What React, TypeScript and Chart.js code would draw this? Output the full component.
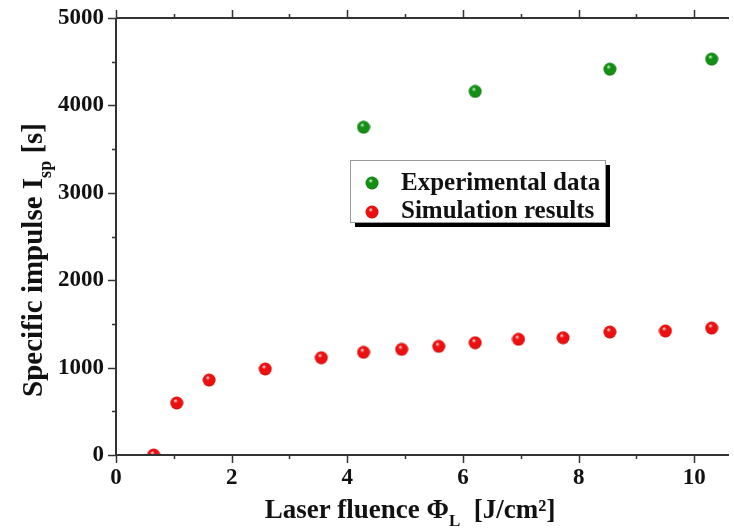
import React, { useEffect, useRef } from "react";
import { Chart, registerables } from "chart.js";
Chart.register(...registerables);

const expX = [4.28, 6.21, 8.54, 10.3];
const expY = [3750, 4160, 4415, 4530];
const simX = [0.65, 1.05, 1.61, 2.58, 3.55, 4.28, 4.94, 5.58, 6.21, 6.96, 7.73, 8.54, 9.5, 10.3];
const simY = [0, 595, 858, 984, 1113, 1175, 1209, 1243, 1285, 1324, 1342, 1407, 1419, 1453];
const xMajorTicks = [0, 2, 4, 6, 8, 10];
const yMajorTicks = [0, 1000, 2000, 3000, 4000, 5000];
const legendLabels = ["Experimental data", "Simulation results"];

const SERIF = '"Liberation Serif", "Times New Roman", serif';
const TEXT = "#111";
const AXIS = "#333";

function sphere(edge: string, base: string, light: string): HTMLCanvasElement {
  const c = document.createElement("canvas");
  const s = 14;
  c.width = s;
  c.height = s;
  const g = c.getContext("2d")!;
  const grad = g.createRadialGradient(5.5, 4.5, 0.5, 7, 7, 7);
  grad.addColorStop(0, light);
  grad.addColorStop(0.25, base);
  grad.addColorStop(0.8, base);
  grad.addColorStop(1, edge);
  g.fillStyle = grad;
  g.beginPath();
  g.arc(7, 7, 6.5, 0, Math.PI * 2);
  g.fill();
  return c;
}

type Part = { t: string; sub?: boolean };

function drawRich(ctx: CanvasRenderingContext2D, parts: Part[], size: number) {
  const main = `bold ${size}px ${SERIF}`;
  const sub = `bold ${Math.round(size * 0.62)}px ${SERIF}`;
  let w = 0;
  for (const p of parts) {
    ctx.font = p.sub ? sub : main;
    w += ctx.measureText(p.t).width;
  }
  let x = -w / 2;
  ctx.textAlign = "left";
  ctx.textBaseline = "alphabetic";
  for (const p of parts) {
    ctx.font = p.sub ? sub : main;
    ctx.fillText(p.t, x, p.sub ? size * 0.3 : 0);
    x += ctx.measureText(p.t).width;
  }
}

export default function App() {
  const ref = useRef<HTMLCanvasElement>(null);
  useEffect(() => {
    const red = sphere("#a00000", "#ee1010", "#ffd8d8");
    const green = sphere("#045004", "#139013", "#c8f0c8");

    const decor = {
      id: "decor",
      afterDraw(chart: any) {
        const ctx: CanvasRenderingContext2D = chart.ctx;
        const xs = chart.scales.x;
        const ys = chart.scales.y;
        const a = chart.chartArea;
        ctx.save();
        ctx.strokeStyle = AXIS;
        ctx.lineWidth = 2;
        ctx.beginPath();
        ctx.moveTo(a.left, a.top);
        ctx.lineTo(a.left, a.bottom);
        ctx.moveTo(a.left, a.bottom);
        ctx.lineTo(a.right, a.bottom);
        ctx.moveTo(a.left, a.top);
        ctx.lineTo(a.right, a.top);
        ctx.stroke();
        ctx.lineWidth = 1.5;
        ctx.beginPath();
        for (let v = 0; v <= 10.6; v += 1) {
          const px = Math.round(xs.getPixelForValue(v)) + 0.5;
          const len = v % 2 === 0 ? 8 : 4;
          ctx.moveTo(px, a.bottom);
          ctx.lineTo(px, a.bottom + len);
          ctx.moveTo(px, a.top);
          ctx.lineTo(px, a.top - len);
        }
        for (let v = 0; v <= 5000; v += 500) {
          const py = Math.round(ys.getPixelForValue(v)) + 0.5;
          const len = v % 1000 === 0 ? 8 : 4;
          ctx.moveTo(a.left, py);
          ctx.lineTo(a.left - len, py);
        }
        ctx.stroke();

        // axis titles
        ctx.fillStyle = TEXT;
        ctx.save();
        ctx.translate(410, 518);
        drawRich(ctx, [{ t: "Laser fluence Φ" }, { t: "L", sub: true }, { t: "  [J/cm²]" }], 27);
        ctx.restore();
        ctx.save();
        ctx.translate(42, 260);
        ctx.rotate(-Math.PI / 2);
        drawRich(ctx, [{ t: "Specific impulse I" }, { t: "sp", sub: true }, { t: " [s]" }], 29);
        ctx.restore();

        // legend
        const lx = 350, ly = 160, lw = 255, lh = 62;
        ctx.fillStyle = "#000";
        ctx.fillRect(lx + 5, ly + lh, lw, 5);
        ctx.fillRect(lx + lw, ly + 5, 5, lh);
        ctx.fillStyle = "#fff";
        ctx.fillRect(lx, ly, lw, lh);
        ctx.strokeStyle = "#999";
        ctx.lineWidth = 1;
        ctx.strokeRect(lx + 0.5, ly + 0.5, lw, lh);
        ctx.drawImage(green, 372 - 7, 183 - 7);
        ctx.drawImage(red, 372 - 7, 212 - 7);
        ctx.fillStyle = TEXT;
        ctx.font = `bold 25px ${SERIF}`;
        ctx.textAlign = "left";
        ctx.textBaseline = "middle";
        ctx.fillText(legendLabels[0], 401, 184);
        ctx.fillText(legendLabels[1], 401, 212);
        ctx.restore();
      },
    };

    const chart = new Chart(ref.current!, {
      type: "scatter",
      data: {
        datasets: [
          {
            label: legendLabels[0],
            data: expX.map((x, i) => ({ x, y: expY[i] })),
            pointStyle: green as any,
            clip: 0 as any,
          },
          {
            label: legendLabels[1],
            data: simX.map((x, i) => ({ x, y: simY[i] })),
            pointStyle: red as any,
            clip: 0 as any,
          },
        ],
      },
      options: {
        animation: false,
        responsive: false,
        maintainAspectRatio: false,
        layout: { padding: { top: 18, right: 0, left: 0, bottom: 0 } },
        plugins: { legend: { display: false }, tooltip: { enabled: false } },
        scales: {
          x: {
            type: "linear",
            min: 0,
            max: 10.6,
            afterBuildTicks: (s: any) => {
              s.ticks = xMajorTicks.map((v) => ({ value: v }));
            },
            afterFit: (s: any) => {
              s.height = 75;
              s.paddingLeft = 0;
              s.paddingRight = 0;
            },
            grid: { display: false, drawTicks: false },
            border: { display: false },
            ticks: {
              color: TEXT,
              font: { family: SERIF, size: 23, weight: "bold" },
              padding: 9,
              maxRotation: 0,
              callback: (v: any) => String(v),
            },
          },
          y: {
            type: "linear",
            min: 0,
            max: 5000,
            afterBuildTicks: (s: any) => {
              s.ticks = yMajorTicks.map((v) => ({ value: v }));
            },
            afterFit: (s: any) => {
              s.width = 116;
              s.paddingTop = 0;
              s.paddingBottom = 0;
            },
            grid: { display: false, drawTicks: false },
            border: { display: false },
            ticks: {
              color: TEXT,
              font: { family: SERIF, size: 23, weight: "bold" },
              padding: 12,
              callback: (v: any) => String(v),
            },
          },
        },
      },
      plugins: [decor],
    });
    return () => chart.destroy();
  }, []);
  return (
    <div style={{ position: "absolute", left: 0, top: 0, width: 734, height: 530, background: "#fff" }}>
      <canvas ref={ref} width={734} height={530} style={{ width: 734, height: 530 }} />
    </div>
  );
}
